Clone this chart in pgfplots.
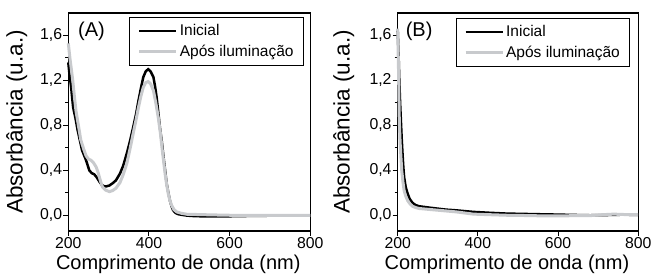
\documentclass[border=0pt]{standalone}
\usepackage{fontspec}
\setmainfont{Liberation Sans}
\usepackage{pgfplots}
\pgfplotsset{compat=1.18}
\definecolor{lgray}{RGB}{200,202,205}
\pgfplotsset{
 myax/.style={
  scale only axis, height=218pt, anchor=south west,
  xmin=200, xmax=800, ymin=-0.14, ymax=1.8,
  xtick={200,400,600,800}, ytick={0,0.4,0.8,1.2,1.6},
  yticklabels={{0,0},{0,4},{0,8},{1,2},{1,6}},
  minor y tick num=1,
  tick pos=left, tick align=outside,
  major tick length=5pt, minor tick length=3pt,
  axis line style={line width=1.3pt},
  every tick/.style={black, line width=1pt},
  ticklabel style={font=\fontsize{15.8}{17}\selectfont, inner sep=1pt},
  /pgf/number format/assume math mode=true,
  xlabel={Comprimento de onda (nm)}, ylabel={Absorbância (u.a.)},
  every axis x label/.style={at={(axis description cs:0.5,0)}, anchor=center, yshift=-33pt, xshift=-11pt, font=\fontsize{20}{22}\selectfont},
  legend style={anchor=north east, draw=black, line width=0.8pt, font=\fontsize{15.5}{17}\selectfont, inner xsep=8pt, inner ysep=5pt, row sep=4pt},
  legend cell align=left,
  legend image code/.code={\draw[##1] (0pt,0pt) -- (37pt,0pt);},
  clip=false,
 }
}
\begin{document}
\begin{tikzpicture}
\useasboundingbox (0,0) rectangle (652pt,280pt);
% ---------- Panel A
\begin{axis}[myax, at={(68.3pt,49pt)}, width=242pt,
  every axis y label/.style={at={(axis description cs:-0.213,0.5)}, rotate=90, anchor=center, font=\fontsize{22.5}{24}\selectfont},
  legend style={at={(0.974,0.98)}}]
\addplot[black, line width=2.5pt] coordinates {
(200,1.36) (203,1.25) (207,1.14) (212,0.96) (218,0.86) (223,0.76) (234,0.58)
(244,0.49) (252,0.40) (258,0.375) (264,0.365) (270,0.34) (277,0.30) (283,0.27)
(289,0.258) (295,0.258) (302,0.265) (310,0.285) (318,0.31) (328,0.37) (336,0.44)
(345,0.55) (353,0.66) (361,0.785) (368,0.90) (374,1.02) (380,1.13) (386,1.23)
(392,1.28) (398,1.30) (404,1.28) (411,1.23) (415,1.15) (419,1.05) (423,0.92)
(427,0.785) (432,0.65) (436,0.52) (440,0.40) (444,0.28) (448,0.20) (452,0.13)
(456,0.08) (460,0.044) (466,0.02) (473,0.009) (485,0.002) (494,-0.003)
(510,-0.007) (527,-0.009) (560,-0.01) (601,-0.009) (650,-0.006) (700,-0.004)
(750,-0.002) (800,0.0)};
\addplot[lgray, line width=3pt] coordinates {
(200,1.53) (204,1.40) (211,1.20) (215,1.06) (219,0.93) (225,0.80) (231,0.67)
(238,0.59) (244,0.53) (250,0.50) (256,0.49) (262,0.47) (269,0.43) (273,0.39)
(277,0.34) (281,0.29) (285,0.25) (292,0.225) (302,0.21) (310,0.22) (318,0.24)
(328,0.29) (336,0.36) (345,0.46) (353,0.59) (361,0.73) (368,0.85) (374,0.96)
(380,1.06) (386,1.14) (392,1.18) (398,1.19) (404,1.17) (411,1.11) (417,1.00)
(423,0.87) (428,0.74) (432,0.61) (436,0.49) (440,0.37) (444,0.27) (448,0.19)
(452,0.13) (456,0.09) (462,0.05) (469,0.03) (480,0.018) (494,0.009) (527,0.006)
(560,0.003) (601,0.0) (650,0.0) (700,-0.002) (750,0.0) (800,0.0)};
\legend{Inicial, Após iluminação}
\node[font=\fontsize{20}{22}\selectfont, anchor=center] at (rel axis cs:0.096,0.916) {(A)};
\end{axis}
% ---------- Panel B
\begin{axis}[myax, at={(397.7pt,49pt)}, width=240.5pt,
  every axis y label/.style={at={(axis description cs:-0.2245,0.5)}, rotate=90, anchor=center, font=\fontsize{22.5}{24}\selectfont},
  legend style={at={(0.967,0.976)}}]
\addplot[black, line width=2.5pt] coordinates {
(200,1.64) (202,1.45) (204,1.2) (206,1.0) (208,0.84) (210,0.68) (212,0.55)
(214,0.43) (216,0.34) (220,0.25) (225,0.19) (230,0.145) (237,0.11) (245,0.09)
(254,0.08) (279,0.068) (321,0.05) (346,0.044) (389,0.03) (430,0.022) (472,0.015)
(514,0.012) (556,0.009) (600,0.006) (638,0.003) (680,0.0) (720,0.002) (760,0.005)
(800,0.004)};
\addplot[lgray, line width=3pt] coordinates {
(200,1.66) (202,1.30) (204,0.84) (206,0.65) (208,0.52) (210,0.40) (213,0.30)
(216,0.22) (220,0.17) (225,0.13) (231,0.10) (237,0.08) (245,0.068) (254,0.06)
(300,0.045) (346,0.03) (389,0.01) (430,0.005) (472,0.0) (514,-0.002) (556,-0.005)
(600,-0.005) (681,-0.003) (710,0.005) (739,0.01) (770,0.006) (800,0.005)};
\legend{Inicial, Após iluminação}
\node[font=\fontsize{20}{22}\selectfont, anchor=center] at (rel axis cs:0.089,0.916) {(B)};
\end{axis}
\end{tikzpicture}
\end{document}
